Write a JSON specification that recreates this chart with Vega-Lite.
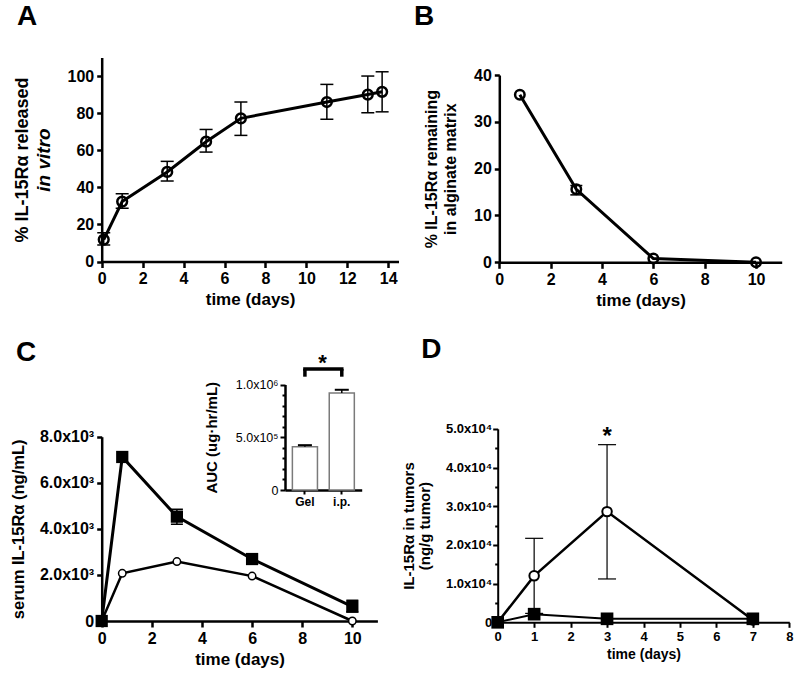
{
"$schema":"https://vega.github.io/schema/vega-lite/v6.json",
"width":800,"height":681,"autosize":"none","padding":0,"background":"white",
"config":{"font":"Liberation Sans","view":{"stroke":null},
 "axis":{"grid":false,"domainColor":"black","tickColor":"black","labelColor":"black","titleColor":"black","labelFont":"Liberation Sans","titleFont":"Liberation Sans","labelFontWeight":"bold","titleFontWeight":"bold","labelFlush":false,"labelOverlap":false,"labelBound":false}},
"datasets":{
 "A":[
  {"t":0.1,"v":11.8,"lo":8.9,"hi":15.5},
  {"t":1.0,"v":32.3,"lo":28.7,"hi":36.5},
  {"t":3.2,"v":48.3,"lo":43.4,"hi":54},
  {"t":5.1,"v":64.6,"lo":59,"hi":71.2},
  {"t":6.8,"v":77.2,"lo":68,"hi":86},
  {"t":11,"v":86,"lo":76.7,"hi":95.5},
  {"t":13,"v":90,"lo":80.2,"hi":100},
  {"t":13.7,"v":91.5,"lo":80.7,"hi":102.3}
 ],
 "B":[
  {"t":0.8,"v":35.8},
  {"t":3.0,"v":15.6,"lo":14.4,"hi":16.4},
  {"t":6.0,"v":0.8},
  {"t":10,"v":0}
 ],
 "C":[
  {"t":0,"v":0,"group":"i.p."},
  {"t":0.82,"v":7120,"group":"i.p."},
  {"t":3,"v":4530,"lo":4200,"hi":4850,"group":"i.p."},
  {"t":6,"v":2690,"group":"i.p."},
  {"t":10,"v":620,"lo":400,"hi":900,"group":"i.p."},
  {"t":0,"v":0,"group":"Gel"},
  {"t":0.82,"v":2070,"group":"Gel"},
  {"t":3,"v":2580,"group":"Gel"},
  {"t":6,"v":1950,"group":"Gel"},
  {"t":10,"v":0,"group":"Gel"}
 ],
 "AUC":[
  {"g":"Gel","auc":410000,"hi":425000},
  {"g":"i.p.","auc":920000,"hi":950000}
 ],
 "D":[
  {"t":0,"v":0,"group":"Gel"},
  {"t":1,"v":12000,"lo":2300,"hi":21700,"group":"Gel"},
  {"t":3,"v":28600,"lo":11200,"hi":45900,"group":"Gel"},
  {"t":7,"v":600,"group":"Gel"},
  {"t":0,"v":0,"group":"i.p."},
  {"t":1,"v":2100,"group":"i.p."},
  {"t":3,"v":900,"group":"i.p."},
  {"t":7,"v":900,"group":"i.p."}
 ]
},
"layer":[
 {
  "layer":[
   {
    "data":{"name":"A"},
    "encoding":{
     "x":{"field":"t","type":"quantitative","scale":{"domain":[0,14.5],"range":[101.7,398.5],"nice":false,"zero":false},
      "axis":{"orient":"bottom","offset":-419.5,"values":[0,2,4,6,8,10,12,14],"tickSize":6,"tickWidth":2.5,"domainWidth":2.5,"labelPadding":3,"labelFontSize":16,"title":"time (days)","titleFontSize":17,"titlePadding":5}},
     "y":{"field":"v","type":"quantitative","scale":{"domain":[0,110],"range":[261.5,57.5],"nice":false,"zero":false},
      "axis":{"orient":"left","offset":-101.7,"values":[0,20,40,60,80,100],"tickSize":5,"tickWidth":2.5,"domainWidth":2.5,"labelPadding":3,"labelFontSize":16,"minExtent":35,"maxExtent":35,"title":"% IL-15Rα released","titleFontSize":18,"titlePadding":35}}
    },
    "layer":[
     {"mark":{"type":"line","color":"black","strokeWidth":3}},
     {"mark":{"type":"rule","color":"black","strokeWidth":1.5},"encoding":{"y":{"field":"lo","type":"quantitative","scale":{"domain":[0,110],"range":[261.5,57.5],"nice":false,"zero":false}},"y2":{"field":"hi"}}},
     {"mark":{"type":"tick","orient":"horizontal","color":"black","size":13,"thickness":1.5,"opacity":1},"encoding":{"y":{"field":"lo","type":"quantitative","scale":{"domain":[0,110],"range":[261.5,57.5],"nice":false,"zero":false}}}},
     {"mark":{"type":"tick","orient":"horizontal","color":"black","size":13,"thickness":1.5,"opacity":1},"encoding":{"y":{"field":"hi","type":"quantitative","scale":{"domain":[0,110],"range":[261.5,57.5],"nice":false,"zero":false}}}},
     {"mark":{"type":"point","shape":"circle","filled":false,"color":"black","strokeWidth":2.5,"size":95,"opacity":1}},
     {"data":{"values":[{"t":-3.65,"v":131.8,"label":"A"}]},"mark":{"type":"text","fontSize":28,"fontWeight":"bold","baseline":"middle","align":"center","color":"black"},"encoding":{"text":{"field":"label"}}}
    ]
   },
   {
    "data":{"name":"A"},
    "mark":{"type":"point","opacity":0},
    "encoding":{
     "x":{"field":"t","type":"quantitative","scale":{"domain":[0,14.5],"range":[101.7,398.5],"nice":false,"zero":false},
      "axis":{"orient":"bottom","offset":-419.5,"values":[0,2,4,6,8,10,12,14],"tickSize":6,"tickWidth":2.5,"domainWidth":2.5,"labelPadding":3,"labelFontSize":16,"title":"time (days)","titleFontSize":17,"titlePadding":5}},
     "y":{"field":"v","type":"quantitative","scale":{"domain":[0,110],"range":[261.5,57.5],"nice":false,"zero":false},
      "axis":{"orient":"left","offset":-101.7,"labels":false,"ticks":false,"domain":false,"minExtent":0,"maxExtent":0,"title":"in vitro","titleFontSize":19,"titleFontStyle":"italic","titlePadding":48.5}}
    }
   }
  ],
  "resolve":{"scale":{"y":"independent"}}
 },
 {
  "data":{"name":"B"},
  "encoding":{
   "x":{"field":"t","type":"quantitative","scale":{"domain":[0,11],"range":[499.3,781.7],"nice":false,"zero":false},
    "axis":{"orient":"bottom","offset":-418.7,"values":[0,2,4,6,8,10],"tickSize":6,"tickWidth":2.5,"domainWidth":2.5,"labelPadding":3,"labelFontSize":16,"title":"time (days)","titleFontSize":17,"titlePadding":5}},
   "y":{"field":"v","type":"quantitative","scale":{"domain":[0,40],"range":[262.3,75],"nice":false,"zero":false},
    "axis":{"orient":"left","offset":-499.3,"values":[0,10,20,30,40],"tickSize":5,"tickWidth":2.5,"domainWidth":2.5,"labelPadding":3,"labelFontSize":16,"minExtent":27,"maxExtent":27,"title":["% IL-15Rα remaining","in alginate matrix"],"titleFontSize":16,"titleLineHeight":18.5,"titlePadding":14}}
  },
  "layer":[
   {"mark":{"type":"line","color":"black","strokeWidth":3}},
   {"mark":{"type":"rule","color":"black","strokeWidth":1.5},"encoding":{"y":{"field":"lo","type":"quantitative","scale":{"domain":[0,40],"range":[262.3,75],"nice":false,"zero":false}},"y2":{"field":"hi"}}},
   {"mark":{"type":"tick","orient":"horizontal","color":"black","size":12,"thickness":1.5,"opacity":1},"encoding":{"y":{"field":"lo","type":"quantitative","scale":{"domain":[0,40],"range":[262.3,75],"nice":false,"zero":false}}}},
   {"mark":{"type":"tick","orient":"horizontal","color":"black","size":12,"thickness":1.5,"opacity":1},"encoding":{"y":{"field":"hi","type":"quantitative","scale":{"domain":[0,40],"range":[262.3,75],"nice":false,"zero":false}}}},
   {"mark":{"type":"point","shape":"circle","filled":false,"color":"black","strokeWidth":2.5,"size":90,"opacity":1}},
   {"data":{"values":[{"t":-2.93,"v":52.3,"label":"B"}]},"mark":{"type":"text","fontSize":28,"fontWeight":"bold","baseline":"middle","align":"center","color":"black"},"encoding":{"text":{"field":"label"}}}
  ]
 },
 {
  "data":{"name":"C"},
  "encoding":{
   "x":{"field":"t","type":"quantitative","scale":{"domain":[0,11],"range":[101.7,377.4],"nice":false,"zero":false},
    "axis":{"orient":"bottom","offset":-60,"values":[0,2,4,6,8,10],"tickSize":6,"tickWidth":2.5,"domainWidth":2.5,"labelPadding":3,"labelFontSize":16,"title":"time (days)","titleFontSize":17,"titlePadding":5}},
   "y":{"field":"v","type":"quantitative","scale":{"domain":[0,8000],"range":[621,436.7],"nice":false,"zero":false},
    "axis":{"orient":"left","offset":-101.7,"values":[0,2000,4000,6000,8000],"labelExpr":"datum.value === 0 ? '0' : format(datum.value/1000,'.1f') + 'x10³'","tickSize":5,"tickWidth":2.5,"domainWidth":2.5,"labelPadding":3,"labelFontSize":16,"minExtent":62,"maxExtent":62,"title":"serum IL-15Rα (ng/mL)","titleFontSize":16.5,"titlePadding":13.5}}
  },
  "layer":[
   {"transform":[{"filter":"datum.group === 'Gel'"}],"mark":{"type":"line","color":"black","strokeWidth":2.5}},
   {"transform":[{"filter":"datum.group === 'i.p.'"}],"mark":{"type":"line","color":"black","strokeWidth":3}},
   {"mark":{"type":"rule","color":"black","strokeWidth":1.5},"encoding":{"y":{"field":"lo","type":"quantitative","scale":{"domain":[0,8000],"range":[621,436.7],"nice":false,"zero":false}},"y2":{"field":"hi"}}},
   {"mark":{"type":"tick","orient":"horizontal","color":"black","size":12,"thickness":1.5,"opacity":1},"encoding":{"y":{"field":"lo","type":"quantitative","scale":{"domain":[0,8000],"range":[621,436.7],"nice":false,"zero":false}}}},
   {"mark":{"type":"tick","orient":"horizontal","color":"black","size":12,"thickness":1.5,"opacity":1},"encoding":{"y":{"field":"hi","type":"quantitative","scale":{"domain":[0,8000],"range":[621,436.7],"nice":false,"zero":false}}}},
   {"transform":[{"filter":"datum.group === 'Gel'"}],"mark":{"type":"point","shape":"circle","filled":true,"fill":"white","stroke":"black","strokeWidth":1.5,"size":55,"opacity":1}},
   {"transform":[{"filter":"datum.group === 'i.p.'"}],"mark":{"type":"point","shape":"square","filled":true,"color":"black","size":150,"opacity":1}},
   {"data":{"values":[{"t":-3.02,"v":11654,"label":"C"}]},"mark":{"type":"text","fontSize":28,"fontWeight":"bold","baseline":"middle","align":"center","color":"black"},"encoding":{"text":{"field":"label"}}}
  ]
 },
 {
  "data":{"name":"AUC"},
  "encoding":{
   "x":{"field":"g","type":"nominal","sort":["Gel","i.p."],"scale":{"domain":["Gel","i.p."],"range":[285,361.7],"paddingInner":0.32,"paddingOuter":0.2},
    "axis":{"orient":"bottom","offset":-191,"tickSize":4,"tickWidth":2,"domainWidth":2.5,"labelPadding":2,"labelFontSize":12,"labelAngle":0,"title":null}},
   "y":{"field":"auc","type":"quantitative","scale":{"domain":[0,1000000],"range":[490,384.5],"nice":false,"zero":false},
    "axis":{"orient":"left","offset":-285,"values":[0,100000,200000,300000,400000,500000,600000,700000,800000,900000,1000000],"labelExpr":"datum.value === 0 ? '0' : datum.value === 500000 ? '5.0x10⁵' : datum.value === 1000000 ? '1.0x10⁶' : ''","tickSize":{"condition":{"test":"datum.value % 500000 === 0","value":5},"value":3},"tickWidth":2,"domainWidth":2.5,"labelPadding":2,"labelFontSize":12.5,"labelFontWeight":"normal","minExtent":48,"maxExtent":48,"title":"AUC  (ug·hr/mL)","titleFontSize":15,"titlePadding":18}}
  },
  "layer":[
   {"mark":{"type":"bar","fill":"white","stroke":"#7a7a7a","strokeWidth":1.5}},
   {"mark":{"type":"rule","color":"black","strokeWidth":1.5},"encoding":{"y":{"field":"auc","type":"quantitative","scale":{"domain":[0,1000000],"range":[490,384.5],"nice":false,"zero":false}},"y2":{"field":"hi"}}},
   {"mark":{"type":"tick","orient":"horizontal","color":"black","size":14,"thickness":2,"opacity":1},"encoding":{"y":{"field":"hi","type":"quantitative","scale":{"domain":[0,1000000],"range":[490,384.5],"nice":false,"zero":false}}}},
   {"data":{"values":[{"g":"Gel","b1":1074000,"b2":1147000},{"g":"i.p.","b1":1074000,"b2":1147000}]},"mark":{"type":"rule","color":"black","strokeWidth":3.5},"encoding":{"y":{"field":"b1","type":"quantitative","scale":{"domain":[0,1000000],"range":[490,384.5],"nice":false,"zero":false}},"y2":{"field":"b2"}}},
   {"data":{"values":[{"g":"Gel","g2":"i.p.","b":1147000}]},"mark":{"type":"rule","color":"black","strokeWidth":3.5,"strokeCap":"square"},"encoding":{"x2":{"field":"g2"},"y":{"field":"b","type":"quantitative","scale":{"domain":[0,1000000],"range":[490,384.5],"nice":false,"zero":false}}}},
   {"data":{"values":[{"g":"Gel","s":1140000,"label":"*"}]},"mark":{"type":"text","fontSize":22,"fontWeight":"bold","dx":17.5,"align":"center","baseline":"alphabetic","color":"black"},"encoding":{"y":{"field":"s","type":"quantitative","scale":{"domain":[0,1000000],"range":[490,384.5],"nice":false,"zero":false}},"text":{"field":"label"}}}
  ]
 },
 {
  "data":{"name":"D"},
  "encoding":{
   "x":{"field":"t","type":"quantitative","scale":{"domain":[0,8],"range":[497.7,789.3],"nice":false,"zero":false},
    "axis":{"orient":"bottom","offset":-58.7,"values":[0,1,2,3,4,5,6,7,8],"tickSize":5,"tickWidth":2,"domainWidth":2,"labelPadding":3,"labelFontSize":13,"title":"time (days)","titleFontSize":14,"titlePadding":4}},
   "y":{"field":"v","type":"quantitative","scale":{"domain":[0,50000],"range":[622.3,428.8],"nice":false,"zero":false},
    "axis":{"orient":"left","offset":-497.7,"values":[0,5000,10000,15000,20000,25000,30000,35000,40000,45000,50000],"labelExpr":"datum.value === 0 ? '0' : (datum.value % 10000 === 0 ? format(datum.value/10000,'.1f') + 'x10⁴' : '')","tickSize":{"condition":{"test":"datum.value % 10000 === 0","value":5},"value":3},"tickWidth":2,"domainWidth":2,"labelPadding":1,"labelFontSize":13,"minExtent":50,"maxExtent":50,"title":["IL-15Rα in tumors","(ng/g tumor)"],"titleFontSize":15,"titleLineHeight":16,"titlePadding":15}}
  },
  "layer":[
   {"transform":[{"filter":"datum.group === 'Gel'"}],"mark":{"type":"line","color":"black","strokeWidth":2.5}},
   {"transform":[{"filter":"datum.group === 'i.p.'"}],"mark":{"type":"line","color":"black","strokeWidth":2}},
   {"mark":{"type":"rule","color":"black","strokeWidth":1.2},"encoding":{"y":{"field":"lo","type":"quantitative","scale":{"domain":[0,50000],"range":[622.3,428.8],"nice":false,"zero":false}},"y2":{"field":"hi"}}},
   {"mark":{"type":"tick","orient":"horizontal","color":"black","size":18,"thickness":1.2,"opacity":1},"encoding":{"y":{"field":"lo","type":"quantitative","scale":{"domain":[0,50000],"range":[622.3,428.8],"nice":false,"zero":false}}}},
   {"mark":{"type":"tick","orient":"horizontal","color":"black","size":18,"thickness":1.2,"opacity":1},"encoding":{"y":{"field":"hi","type":"quantitative","scale":{"domain":[0,50000],"range":[622.3,428.8],"nice":false,"zero":false}}}},
   {"transform":[{"filter":"datum.group === 'Gel'"}],"mark":{"type":"point","shape":"circle","filled":true,"fill":"white","stroke":"black","strokeWidth":2,"size":90,"opacity":1}},
   {"transform":[{"filter":"datum.group === 'i.p.'"}],"mark":{"type":"point","shape":"square","filled":true,"color":"black","size":160,"opacity":1}},
   {"data":{"values":[{"t":3,"v":46200,"label":"*"}]},"mark":{"type":"text","fontSize":24,"fontWeight":"bold","baseline":"alphabetic","align":"center","color":"black"},"encoding":{"text":{"field":"label"}}},
   {"data":{"values":[{"t":-1.82,"v":70360,"label":"D"}]},"mark":{"type":"text","fontSize":28,"fontWeight":"bold","baseline":"middle","align":"center","color":"black"},"encoding":{"text":{"field":"label"}}}
  ]
 }
],
"resolve":{"scale":{"x":"independent","y":"independent"}}
}
